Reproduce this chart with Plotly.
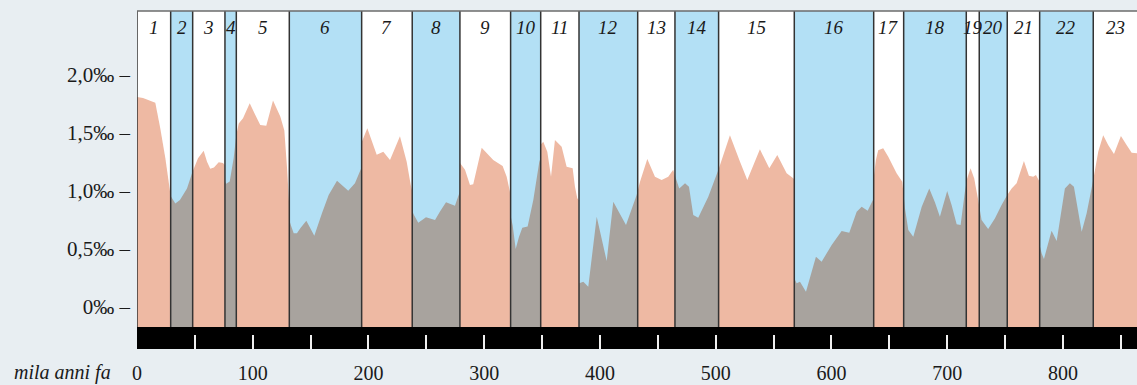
import numpy as np
import plotly.graph_objects as go

# ---- data ----
age_kyr = [0, 5.2, 15.8, 20.1, 24.5, 28.8, 33.1, 37.1, 43.2, 47.5, 49.0, 52.7, 57.6, 60.5, 63.3, 66.5,
           70.6, 74.3, 75.9, 76.1, 77.0, 80.1, 83.5, 85.8, 87.9, 91.6, 97.4, 101.9, 106.5, 111.7, 117.5,
           123.8, 127.3, 129.6, 131.5, 131.8, 133.0, 135.4, 138.2, 141.1, 146.3, 153.2, 159.8, 165.6,
           172.8, 177.1, 182.5, 188.3, 192.7, 194.0, 194.2, 199.0, 203.0, 207.1, 212.8, 218.6, 227.2,
           233.0, 236.5, 237.7, 238.0, 239.3, 243.0, 249.7, 257.5, 261.8, 267.0, 274.7, 278.2, 278.9,
           279.1, 283.4, 287.7, 290.5, 297.8, 307.8, 315.9, 319.4, 322.2, 322.9, 324.6, 327.2, 330.0,
           332.9, 337.5, 342.4, 347.6, 348.7, 348.9, 351.0, 354.5, 357.7, 361.1, 366.9, 371.2, 376.4,
           378.4, 380.4, 381.7, 382.1, 385.6, 389.9, 397.2, 405.8, 411.5, 422.5, 431.7, 434.6, 440.9,
           447.5, 453.3, 459.0, 463.3, 466.3, 468.5, 473.5, 476.9, 480.6, 484.9, 493.6, 500.8, 503.7,
           512.3, 521.0, 527.3, 538.2, 546.3, 553.2, 561.3, 567.0, 567.8, 568.1, 569.9, 572.8, 578.0,
           586.6, 591.5, 600.2, 608.8, 615.4, 621.8, 626.1, 631.3, 635.6, 636.4, 636.6, 638.4, 640.4,
           644.7, 649.1, 656.3, 661.2, 663.5, 666.4, 670.7, 678.0, 684.5, 689.4, 693.7, 700.0, 703.8,
           708.2, 711.6, 715.3, 717.3, 720.2, 723.3, 726.8, 729.7, 735.4, 741.2, 747.0, 751.9, 755.7,
           760.0, 762.9, 766.3, 770.6, 774.3, 776.7, 778.7, 779.7, 780.1, 781.6, 783.6, 790.2, 794.6,
           801.7, 806.0, 809.5, 816.2, 820.5, 825.3, 827.6, 830.5, 834.8, 839.1, 844.1, 850.1, 855.0,
           859.4, 864.0]
value_permil = [1.81, 1.80, 1.76, 1.54, 1.28, 0.96, 0.89, 0.92, 1.02, 1.15, 1.19, 1.28, 1.345, 1.25, 1.19, 1.20,
                1.245, 1.24, 1.22, 1.08, 1.06, 1.08, 1.28, 1.48, 1.58, 1.625, 1.755, 1.66, 1.567, 1.56, 1.78,
                1.64, 1.52, 1.20, 0.92, 0.74, 0.70, 0.632, 0.632, 0.675, 0.74, 0.61, 0.805, 0.963,
                1.086, 1.05, 1.00, 1.064, 1.17, 1.20, 1.42, 1.54, 1.42, 1.31, 1.337, 1.265, 1.47,
                1.25, 1.05, 1.00, 0.82, 0.79, 0.724, 0.77, 0.747, 0.82, 0.90, 0.87, 0.978, 0.99,
                1.24, 1.18, 1.05, 1.055, 1.37, 1.265, 1.213, 1.12, 0.99, 0.78, 0.70, 0.497, 0.60,
                0.68, 0.69, 0.92, 1.25, 1.28, 1.40, 1.423, 1.337, 1.12, 1.438, 1.38, 1.207, 1.193,
                1.035, 0.934, 0.92, 0.20, 0.214, 0.171, 0.775, 0.393, 0.905, 0.704, 0.963, 1.078, 1.274,
                1.12, 1.092, 1.12, 1.18, 1.078, 1.02, 1.064, 1.035, 0.79, 0.767, 0.948, 1.135, 1.222,
                1.48, 1.25, 1.092, 1.357, 1.193, 1.308, 1.15, 1.107, 1.10, 0.24, 0.20, 0.214, 0.128,
                0.43, 0.387, 0.531, 0.652, 0.637, 0.819, 0.862, 0.827, 0.92, 0.93, 1.12, 1.265, 1.35,
                1.366, 1.294, 1.15, 1.078, 0.848, 0.66, 0.603, 0.862, 1.02, 0.90, 0.775, 0.997, 0.876,
                0.71, 0.704, 0.99, 1.107, 1.193, 1.107, 0.92, 0.747, 0.669, 0.76, 0.876, 0.963, 1.02,
                1.064, 1.15, 1.256, 1.13, 1.12, 1.135, 1.092, 1.08, 0.52, 0.459, 0.41, 0.655, 0.566,
                1.02, 1.064, 1.035, 0.646, 0.805, 1.05, 1.164, 1.337, 1.48, 1.395, 1.317, 1.472, 1.395,
                1.328, 1.323]

stage_bounds = [0, 29.1, 48.1, 76.0, 85.8, 131.6, 194.1, 237.8, 279.0, 322.8, 348.8, 381.9, 432.6,
                464.8, 502.5, 567.9, 636.5, 662.4, 716.5, 727.7, 751.9, 779.9, 826.2, 864.0]
stage_labels = ["1", "2", "3", "4", "5", "6", "7", "8", "9", "10", "11", "12",
                "13", "14", "15", "16", "17", "18", "19", "20", "21", "22", "23"]

y_tickvals = [0, 0.5, 1.0, 1.5, 2.0]
y_ticktext = ["0‰ –", "0,5‰ –", "1,0‰ –", "1,5‰ –", "2,0‰ –"]
x_tickvals = [0, 50, 100, 150, 200, 250, 300, 350, 400, 450, 500, 550, 600, 650, 700, 750, 800, 850]
x_ticktext = ["0", "", "100", "", "200", "", "300", "", "400", "", "500", "", "600", "", "700", "", "800", ""]

# ---- style ----
PAGE_BG = "#e8eef2"
BLUE = "#b3e0f5"
SALMON = "#eeb9a3"
GREY = "#a8a39e"
FONT = "Liberation Serif"
Y_MIN, Y_MAX = -0.367, 2.552
BAND_TOP = -0.177
X_MAX = 864.0
LABEL_Y = 2.41

a = np.array(age_kyr)
v = np.array(value_permil)

fig = go.Figure()
shapes = []
annotations = []

for i, lab in enumerate(stage_labels):
    lo, hi = stage_bounds[i], stage_bounds[i + 1]
    glacial = (i % 2 == 1)
    if glacial:
        shapes.append(dict(type="rect", xref="x", yref="y", x0=lo, x1=hi, y0=BAND_TOP, y1=Y_MAX,
                           fillcolor=BLUE, line=dict(width=0), layer="below"))
    mask = (a > lo) & (a < hi)
    xs = [lo] + list(a[mask]) + [hi]
    ys = [float(np.interp(lo, a, v))] + list(v[mask]) + [float(np.interp(hi, a, v))]
    fig.add_trace(go.Scatter(
        x=xs + [hi, lo], y=ys + [BAND_TOP, BAND_TOP],
        mode="lines", fill="toself", fillcolor=GREY if glacial else SALMON,
        line=dict(width=0), hoverinfo="skip", showlegend=False))
    annotations.append(dict(x=(lo + hi) / 2, xref="x", y=LABEL_Y, yref="y",
                            text="<i>" + lab + "</i>", showarrow=False, xanchor="center", yanchor="middle",
                            font=dict(family=FONT, size=19, color="#1a1a1a")))

for b in stage_bounds[:-1]:
    shapes.append(dict(type="line", xref="x", yref="y", x0=b, x1=b, y0=BAND_TOP, y1=Y_MAX,
                       line=dict(color="#333333", width=1.5), layer="above"))

# black band
shapes.append(dict(type="rect", xref="paper", yref="y", x0=0, x1=1, y0=Y_MIN, y1=BAND_TOP,
                   fillcolor="black", line=dict(width=0), layer="below"))
# top border
shapes.append(dict(type="line", xref="paper", yref="paper", x0=0, x1=1, y0=1, y1=1,
                   line=dict(color="#6b6b6b", width=1.5), layer="above"))

annotations.append(dict(x=-0.024, xref="paper", y=-0.071, yref="paper", text="<i>mila anni fa</i>",
                        showarrow=False, xanchor="right", yanchor="middle",
                        font=dict(family=FONT, size=20, color="#1a1a1a")))

fig.update_layout(
    width=1137, height=385,
    margin=dict(l=137, r=0, t=11, b=36, pad=0, autoexpand=False),
    paper_bgcolor=PAGE_BG, plot_bgcolor="white",
    shapes=shapes, annotations=annotations,
    showlegend=False,
    xaxis=dict(range=[0, X_MAX], showgrid=False, zeroline=False, showline=False, automargin=False,
               tickmode="array", tickvals=x_tickvals, ticktext=x_ticktext,
               ticks="inside", ticklen=14, tickwidth=1.5, tickcolor="#f0f0f0",
               ticklabelstandoff=10,
               tickfont=dict(family=FONT, size=20, color="#1a1a1a")),
    yaxis=dict(range=[Y_MIN, Y_MAX], showgrid=False, zeroline=False, showline=False, automargin=False,
               tickmode="array", tickvals=y_tickvals, ticktext=y_ticktext,
               ticks="", ticklabelstandoff=6,
               tickfont=dict(family=FONT, size=21, color="#1a1a1a")),
)

fig.write_html("out.html", config={"displayModeBar": False},
               post_script="document.body.style.margin='0';document.body.style.overflow='hidden';"
                           "document.body.style.background='" + PAGE_BG + "';")
